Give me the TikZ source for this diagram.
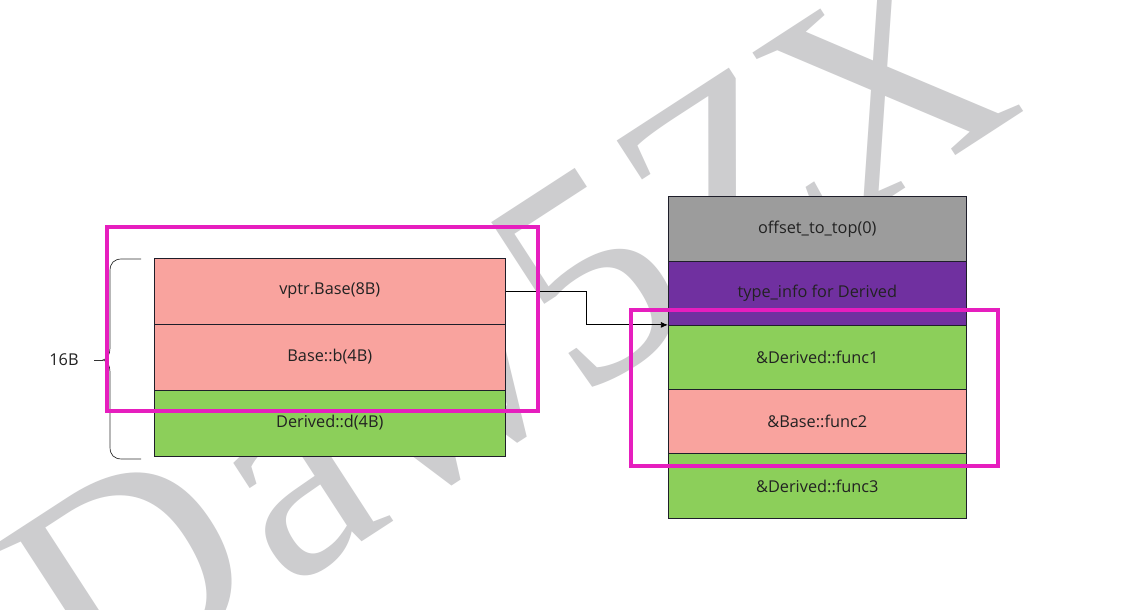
\documentclass[tikz,border=0pt]{standalone}
\usepackage{fontspec}
\setmainfont{Open Sans}
\newfontfamily\wmfont{Liberation Serif}
\usetikzlibrary{arrows.meta}
\definecolor{cellpink}{HTML}{F9A39E}
\definecolor{cellgreen}{HTML}{8CCF5A}
\definecolor{cellgrey}{HTML}{9C9C9C}
\definecolor{cellpurple}{HTML}{7030A0}
\definecolor{framemag}{HTML}{E61EBE}
\definecolor{wmgrey}{HTML}{CDCDCF}
\definecolor{edgedark}{HTML}{1E1E2A}
\definecolor{textdark}{HTML}{222222}
\tikzset{
  cellL/.style={draw=edgedark, line width=0.8pt, minimum width=351pt, minimum height=66pt, inner sep=0pt, text=textdark, font=\fontsize{16.3}{18}\selectfont},
  cellR/.style={draw=edgedark, line width=0.8pt, minimum width=298pt, minimum height=64.3pt, inner sep=0pt, text=textdark, font=\fontsize{16.3}{18}\selectfont},
  hilite/.style={draw=framemag, line width=4pt},
  conn/.style={draw=black, line width=0.8pt},
  bracestyle/.style={draw=black!80, line width=0.7pt},
  watermark/.style={text=wmgrey, inner sep=0pt, font=\wmfont\fontsize{300}{300}\selectfont}
}
\begin{document}
\begin{tikzpicture}[x=1pt,y=1pt]
\useasboundingbox (0,0) rectangle (1130,610);
\fill[white] (0,0) rectangle (1130,610);
% watermark
\node[watermark, rotate=33] (wm) at (508,279) {D\kern12pt aw5Z\kern-14pt X};
% left object layout
\node[cellL, fill=cellpink] (vptr) at (329.8,319) {vptr.Base(8B)};
\node[cellL, fill=cellpink] (bb) at (329.8,253) {Base::b(4B)};
\node[cellL, fill=cellgreen] (dd) at (329.8,187) {Derived::d(4B)};
% vtable
\node[cellR, fill=cellgrey] (off) at (817.3,381.15) {offset\_to\_top(0)};
\node[cellR, fill=cellpurple] (ti) at (817.3,316.85) {type\_info for Derived};
\node[cellR, fill=cellgreen] (f1) at (817.3,252.55) {\&Derived::func1};
\node[cellR, fill=cellpink] (f2) at (817.3,188.25) {\&Base::func2};
\node[cellR, fill=cellgreen] (f3) at (817.3,123.95) {\&Derived::func3};
% pointer
\draw[conn, -{Latex[length=7pt,width=6pt]}] (vptr.east) -- ++(81,0) |- (f1.north west);
% brace
\coordinate (btop) at (141,351);
\coordinate (bbot) at (141,151);
\coordinate (btip) at (103,250);
\coordinate (btick) at (94,250);
\draw[bracestyle] (btop) -- (122,351) .. controls (114,351) and (110,347) .. (110,339) -- (110,262) .. controls (110,255) and (107,251) .. (btip) .. controls (107,249) and (110,245) .. (110,238) -- (110,163) .. controls (110,155) and (114,151) .. (122,151) -- (bbot);
\draw[bracestyle] (btip) -- (btick);
\node[text=textdark, font=\fontsize{16.3}{18}\selectfont] (sz) at (64,250) {16B};
% highlight frames
\draw[hilite] (106.7,383.3) rectangle (538.3,199);
\draw[hilite] (631,300) rectangle (998.3,144);
\end{tikzpicture}
\end{document}
